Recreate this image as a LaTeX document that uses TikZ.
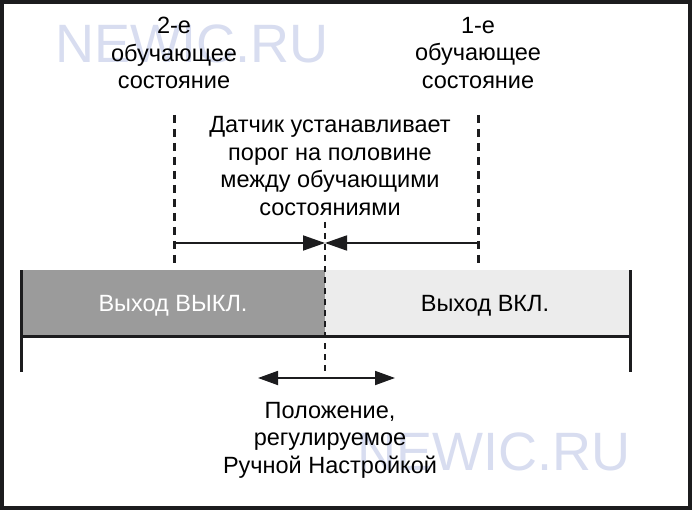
\documentclass[tikz,border=0pt]{standalone}
\usepackage{fontspec}
\setmainfont{Liberation Sans}
\usetikzlibrary{arrows.meta}
\definecolor{frame}{RGB}{28,28,30}
\definecolor{offgray}{RGB}{155,155,155}
\definecolor{ongray}{RGB}{236,236,236}
\definecolor{wm}{RGB}{216,221,240}
\begin{document}
\begin{tikzpicture}[x=1pt,y=-1pt,
  lbl/.style={inner sep=0pt,align=center,font=\fontsize{23.5}{27.5}\selectfont},
  wmark/.style={inner sep=0pt,text=wm,font=\fontsize{54}{54}\selectfont},
  thickdash/.style={line width=3pt,dash pattern=on 8pt off 6pt},
  thindash/.style={line width=1.8pt,dash pattern=on 6pt off 5pt},
  barline/.style={line width=3pt,frame},
  arr/.style={line width=1.8pt,-{Triangle[length=22pt,width=15pt]}},
  darr/.style={line width=1.8pt,{Triangle[length=20pt,width=14pt]}-{Triangle[length=20pt,width=14pt]}}]
\useasboundingbox (0,0) rectangle (692,510);
\fill[white] (0,0) rectangle (692,510);
% watermarks
\node[wmark,anchor=base west] (wm1) at (55,63) {NEWIC.RU};
\node[wmark,anchor=base west] (wm2) at (357,470) {NEWIC.RU};
% frame
\draw[frame,line width=4pt] (2,2) rectangle (690,508);
% bar
\fill[offgray] (21,270) rectangle (325,336);
\fill[ongray] (325,270) rectangle (630,336);
\coordinate (bl) at (21,270);
\coordinate (blb) at (21,372);
\coordinate (br) at (630,270);
\coordinate (brb) at (630,372);
\coordinate (bb1) at (21,336);
\coordinate (bb2) at (630,336);
\draw[barline] (bl) -- (blb);
\draw[barline] (br) -- (brb);
\draw[barline] (bb1) -- (bb2);
% dashed teach lines
\coordinate (t2top) at (174,115);
\coordinate (t2bot) at (174,268);
\coordinate (t1top) at (478,115);
\coordinate (t1bot) at (478,268);
\draw[thickdash,frame] (t2top) -- (t2bot);
\draw[thickdash,frame] (t1top) -- (t1bot);
% centre dashed line
\coordinate (ctop) at (325,222);
\coordinate (cbot) at (325,372);
\draw[thindash,frame] (ctop) -- (cbot);
% half arrows
\coordinate (a2) at (174,243);
\coordinate (a1) at (478,243);
\coordinate (am) at (325,243);
\draw[arr,frame] (a2) -- (am);
\draw[arr,frame] (a1) -- (am);
% adjustment arrow
\coordinate (dl) at (258,378);
\coordinate (dr) at (395,378);
\draw[darr,frame] (dl) -- (dr);
% texts
\node[lbl] (s2) at (174,53) {2-е\\обучающее\\состояние};
\node[lbl] (s1) at (478,53) {1-е\\обучающее\\состояние};
\node[lbl] (sens) at (330,166) {Датчик устанавливает\\порог на половине\\между обучающими\\состояниями};
\node[lbl,text=white] (off) at (173,306) {Выход ВЫКЛ.};
\node[lbl] (on) at (485,306) {Выход ВКЛ.};
\node[lbl] (pos) at (330,440) {Положение,\\регулируемое\\Ручной Настройкой};
\end{tikzpicture}
\end{document}
